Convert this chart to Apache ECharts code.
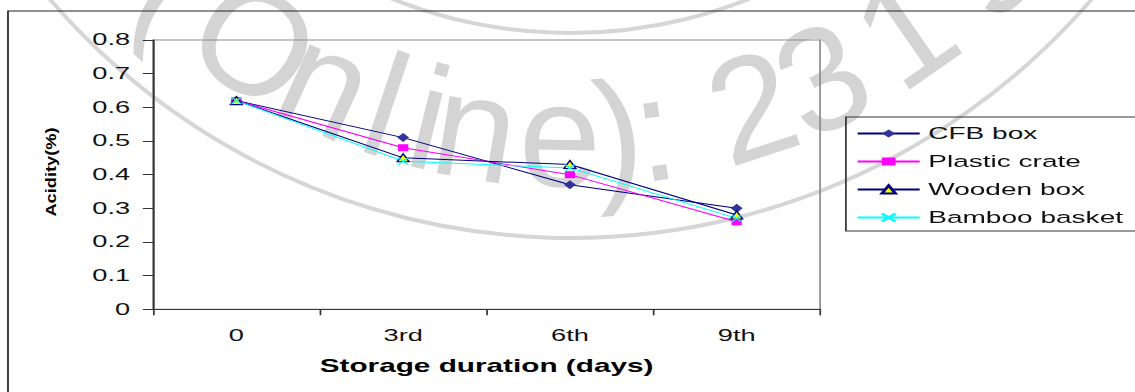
<!DOCTYPE html>
<html><head><meta charset="utf-8">
<script src="https://cdn.jsdelivr.net/npm/echarts@6/dist/echarts.min.js"></script>
<style>
html,body{margin:0;padding:0;background:#fff;overflow:hidden;width:1135px;height:392px;}
#c{position:absolute;left:0;top:0;width:667.65px;height:392px;transform:scaleX(1.7);transform-origin:0 0;}
</style></head><body><div id="c"></div>
<script>
// data
const categories = ['0', '3rd', '6th', '9th'];
const seriesNames = ['CFB box', 'Plastic crate', 'Wooden box', 'Bamboo basket'];
const cfbBox = [0.62, 0.51, 0.37, 0.30];
const plasticCrate = [0.62, 0.48, 0.40, 0.26];
const woodenBox = [0.62, 0.45, 0.43, 0.28];
const bambooBasket = [0.62, 0.44, 0.42, 0.27];
const yTickLabels = ['0', '0.1', '0.2', '0.3', '0.4', '0.5', '0.6', '0.7', '0.8'];
const xTitle = 'Storage duration (days)';
const yTitle = 'Acidity(%)';
// background stamp watermark text (characters and their approximate centre x on the page)
const wmChars = ['(', 'O', 'n', 'l', 'i', 'n', 'e', ')', ':', '2', '3', '1', '9'];
const wmX = [180, 255, 327, 386, 430, 476, 560, 618, 654, 752, 822, 905, 985];

const S = 1.7;
const FONT = '"Liberation Sans", Arial, sans-serif';
const chart = echarts.init(document.getElementById('c'), null, {renderer: 'svg', width: 1135 / S, height: 392});

function mk(name, data, lineColor, symbol, size, fill, border) {
  return {
    name: name, type: 'line', data: data,
    symbol: symbol, symbolSize: size,
    lineStyle: {color: lineColor, width: 1},
    itemStyle: {color: fill, borderColor: border || fill, borderWidth: border ? 1 : 0},
    emphasis: {disabled: true}
  };
}

// stamp geometry (page pixels)
const CX = 571, CY = -450, RGLYPH = 585;
const wmChildren = [
  {type: 'circle', silent: true, z: -100, shape: {cx: CX, cy: CY, r: 688}, style: {fill: 'none', stroke: '#d6d6d6', lineWidth: 4}},
  {type: 'circle', silent: true, z: -100, shape: {cx: CX, cy: CY, r: 483}, style: {fill: 'none', stroke: '#d6d6d6', lineWidth: 4}}
];
wmChars.forEach(function (ch, i) {
  const a = Math.asin((wmX[i] - CX) / RGLYPH);
  wmChildren.push({
    type: 'text', silent: true, z: -100,
    x: CX + RGLYPH * Math.sin(a), y: CY + RGLYPH * Math.cos(a), rotation: a,
    style: {text: ch, font: '148px ' + FONT, fill: '#d4d4d4', align: 'center', verticalAlign: 'middle'}
  });
});

chart.setOption({
  animation: false,
  backgroundColor: '#fff',
  textStyle: {fontFamily: FONT},
  grid: {left: 90, top: 40, width: 392.4, height: 269.3, show: true, borderColor: '#8c8c8c', borderWidth: 1, backgroundColor: 'transparent'},
  xAxis: {
    type: 'category', data: categories, boundaryGap: true,
    axisLine: {lineStyle: {color: '#333', width: 1}},
    axisTick: {show: true, length: 6, lineStyle: {color: '#333'}},
    axisLabel: {margin: 18, fontSize: 16, color: '#111', fontFamily: FONT},
    name: xTitle, nameLocation: 'middle', nameGap: 48,
    nameTextStyle: {fontSize: 17.5, fontWeight: 'bold', color: '#000', fontFamily: FONT},
    splitLine: {show: false}
  },
  yAxis: {
    type: 'value', min: 0, max: 0.8, interval: 0.1,
    axisLine: {show: true, lineStyle: {color: '#333', width: 1}},
    axisTick: {show: true, length: 6, lineStyle: {color: '#333'}},
    axisLabel: {margin: 13.5, fontSize: 16, color: '#111', fontFamily: FONT,
      formatter: function (v) { return yTickLabels[Math.round(v * 10)]; }},
    splitLine: {show: false}
  },
  legend: {
    orient: 'vertical', left: 503.5, top: 125, padding: 0,
    itemWidth: 36.5, itemHeight: 10, itemGap: 11,
    textStyle: {fontSize: 16.5, color: '#111', fontFamily: FONT},
    data: seriesNames
  },
  graphic: [
    {type: 'group', scaleX: 1 / S, silent: true, z: -100, children: wmChildren},
    {type: 'rect', z: -10, silent: true, shape: {x: 4.7, y: 11, width: 1000, height: 1000},
      style: {fill: 'none', stroke: '#222', lineWidth: 1}},
    {type: 'rect', z: -10, silent: true, shape: {x: 497.6, y: 117, width: 400, height: 114},
      style: {fill: 'none', stroke: '#333', lineWidth: 1}},
    {type: 'text', silent: true, x: 30, y: 172, rotation: Math.PI / 2, scaleX: 1.52, scaleY: 0.7,
      style: {text: yTitle, font: 'bold 12px ' + FONT, fill: '#000', align: 'center', verticalAlign: 'middle'}}
  ],
  series: [
    mk(seriesNames[0], cfbBox, '#000080', 'diamond', [7, 9], '#333399'),
    mk(seriesNames[1], plasticCrate, '#ff00ff', 'rect', [6, 7], '#ff00ff'),
    mk(seriesNames[2], woodenBox, '#000080', 'triangle', [7, 8], '#ffff00', '#000080'),
    mk(seriesNames[3], bambooBasket, '#00ffff', 'path://M0,0L10,10M10,0L0,10', [6, 7], '#00ffff', '#00ffff')
  ]
});
</script></body></html>
